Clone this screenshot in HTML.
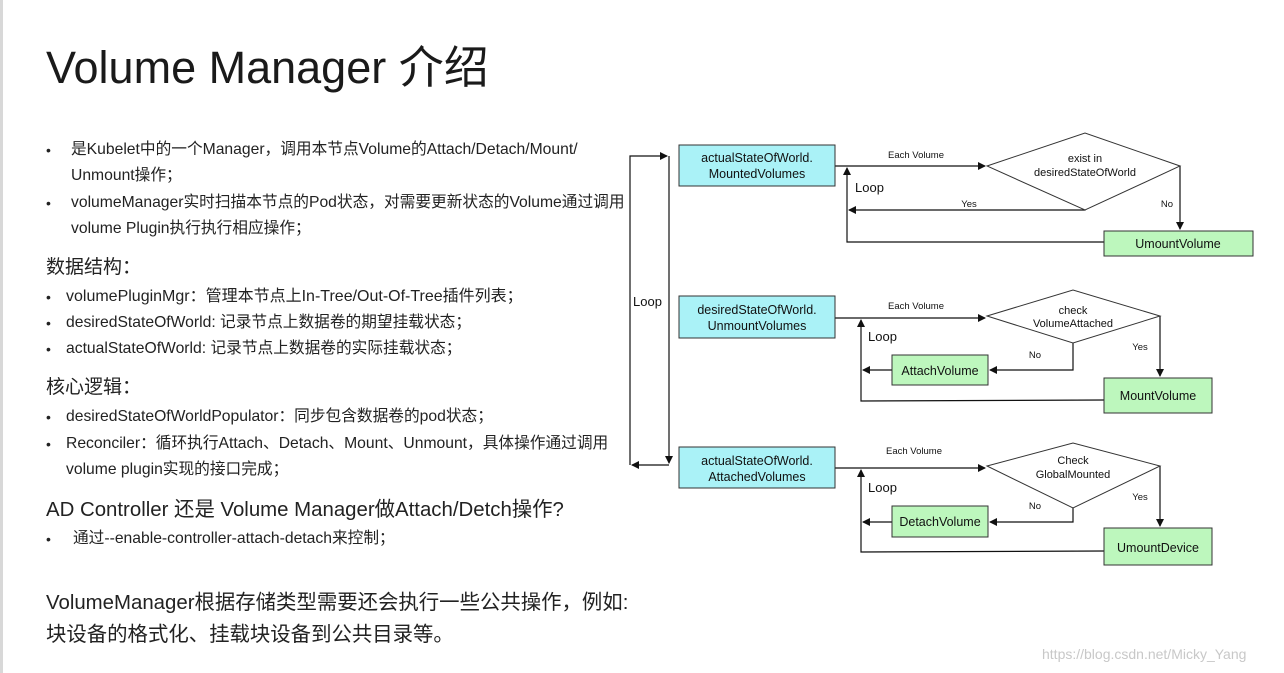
<!DOCTYPE html>
<html><head><meta charset="utf-8"><style>
body{margin:0;width:1284px;height:673px;background:#fff;position:relative;overflow:hidden;font-family:"Liberation Sans","Noto Sans CJK SC",sans-serif;color:#222}
.l{position:absolute;white-space:nowrap;line-height:1}
.s{font-size:15.7px}
.h{font-size:19px}
.b{position:absolute;font-size:14px;line-height:1}
</style></head><body>
<div style="position:absolute;left:0;top:0;width:3px;height:673px;background:#d8d8d8"></div>
<div class="l" style="left:46px;top:45px;font-size:45px;color:#1a1a1a">Volume Manager 介绍</div>

<div class="b" style="left:46px;top:143px">•</div>
<div class="l s" style="left:71px;top:142px">是Kubelet中的一个Manager，调用本节点Volume的Attach/Detach/Mount/</div>
<div class="l s" style="left:71px;top:168px">Unmount操作；</div>
<div class="b" style="left:46px;top:196px">•</div>
<div class="l s" style="left:71px;top:195px">volumeManager实时扫描本节点的Pod状态，对需要更新状态的Volume通过调用</div>
<div class="l s" style="left:71px;top:221px">volume Plugin执行执行相应操作；</div>

<div class="l h" style="left:46px;top:258px">数据结构：</div>
<div class="b" style="left:46px;top:290px">•</div>
<div class="l s" style="left:66px;top:289px;font-size:16px">volumePluginMgr：管理本节点上In-Tree/Out-Of-Tree插件列表；</div>
<div class="b" style="left:46px;top:316px">•</div>
<div class="l s" style="left:66px;top:315px">desiredStateOfWorld: 记录节点上数据卷的期望挂载状态；</div>
<div class="b" style="left:46px;top:342px">•</div>
<div class="l s" style="left:66px;top:341px">actualStateOfWorld: 记录节点上数据卷的实际挂载状态；</div>

<div class="l h" style="left:46px;top:378px">核心逻辑：</div>
<div class="b" style="left:46px;top:410px">•</div>
<div class="l s" style="left:66px;top:409px">desiredStateOfWorldPopulator：同步包含数据卷的pod状态；</div>
<div class="b" style="left:46px;top:437px">•</div>
<div class="l s" style="left:66px;top:436px">Reconciler：循环执行Attach、Detach、Mount、Unmount，具体操作通过调用</div>
<div class="l s" style="left:66px;top:462px">volume plugin实现的接口完成；</div>

<div class="l" style="left:46px;top:500px;font-size:20.4px">AD Controller 还是 Volume Manager做Attach/Detch操作?</div>
<div class="b" style="left:46px;top:532px">•</div>
<div class="l s" style="left:73px;top:531px">通过--enable-controller-attach-detach来控制；</div>

<div class="l" style="left:46px;top:593px;font-size:20.4px">VolumeManager根据存储类型需要还会执行一些公共操作，例如:</div>
<div class="l" style="left:46px;top:625px;font-size:20.4px">块设备的格式化、挂载块设备到公共目录等。</div>
<div class="l" style="left:1042px;top:647px;font-size:14px;color:#c8c8c8">https://blog.csdn.net/Micky_Yang</div>

<svg width="1284" height="673" style="position:absolute;left:0;top:0" font-family="Liberation Sans, sans-serif">
<defs><marker id="a" markerWidth="8" markerHeight="8" refX="7" refY="4" orient="auto" markerUnits="userSpaceOnUse"><path d="M0,0 L8,4 L0,8 z" fill="#111"/></marker></defs>
<g stroke="#111" stroke-width="1.2" fill="none">
<path d="M630,465 V156 H667" marker-end="url(#a)"/>
<path d="M669,156 V463" marker-end="url(#a)"/>
<path d="M669,465 H632" marker-end="url(#a)"/>
<path d="M835,166 H985" marker-end="url(#a)"/>
<path d="M1180,166 V229" marker-end="url(#a)"/>
<path d="M1085,197 V210 H849" marker-end="url(#a)"/>
<path d="M1104,242 H847 V168" marker-end="url(#a)"/>
<path d="M835,318 H985" marker-end="url(#a)"/>
<path d="M1160,316 V376" marker-end="url(#a)"/>
<path d="M1073,343 V370 H990" marker-end="url(#a)"/>
<path d="M892,370 H863" marker-end="url(#a)"/>
<path d="M1104,400 L861,401 V320" marker-end="url(#a)"/>
<path d="M835,468 H985" marker-end="url(#a)"/>
<path d="M1160,466 V526" marker-end="url(#a)"/>
<path d="M1073,508 V522 H990" marker-end="url(#a)"/>
<path d="M892,522 H863" marker-end="url(#a)"/>
<path d="M1104,551 L861,552 V470" marker-end="url(#a)"/>
</g>
<g stroke="#333" stroke-width="1">
<rect x="679" y="145" width="156" height="41" fill="#aaf2f7"/>
<rect x="679" y="296" width="156" height="42" fill="#aaf2f7"/>
<rect x="679" y="447" width="156" height="41" fill="#aaf2f7"/>
<rect x="1104" y="231" width="149" height="25" fill="#bdf7bd"/>
<rect x="892" y="355" width="96" height="30" fill="#bdf7bd"/>
<rect x="1104" y="378" width="108" height="35" fill="#bdf7bd"/>
<rect x="892" y="506" width="96" height="31" fill="#bdf7bd"/>
<rect x="1104" y="528" width="108" height="37" fill="#bdf7bd"/>
<path d="M987,166 L1085,133 L1180,166 L1085,210 Z" fill="#fff"/>
<path d="M987,316 L1073,290 L1160,316 L1073,343 Z" fill="#fff"/>
<path d="M987,466 L1073,443 L1160,466 L1073,508 Z" fill="#fff"/>
</g>
<g fill="#111" font-size="12.5" text-anchor="middle">
<text x="757" y="162">actualStateOfWorld.</text><text x="757" y="178">MountedVolumes</text>
<text x="757" y="314">desiredStateOfWorld.</text><text x="757" y="330">UnmountVolumes</text>
<text x="757" y="465">actualStateOfWorld.</text><text x="757" y="481">AttachedVolumes</text>
<text x="1178" y="248">UmountVolume</text>
<text x="940" y="375">AttachVolume</text>
<text x="1158" y="400">MountVolume</text>
<text x="940" y="526">DetachVolume</text>
<text x="1158" y="552">UmountDevice</text>
<g font-size="11"><text x="1085" y="162">exist in</text><text x="1085" y="176">desiredStateOfWorld</text>
<text x="1073" y="314">check</text><text x="1073" y="327">VolumeAttached</text>
<text x="1073" y="464">Check</text><text x="1073" y="478">GlobalMounted</text></g>
<g font-size="9.5"><text x="916" y="158">Each Volume</text><text x="916" y="309">Each Volume</text><text x="914" y="454">Each Volume</text>
<text x="969" y="207">Yes</text><text x="1167" y="207">No</text>
<text x="1035" y="358">No</text><text x="1140" y="350">Yes</text>
<text x="1035" y="509">No</text><text x="1140" y="500">Yes</text></g>
</g>
<g fill="#111" font-size="13"><text x="855" y="192">Loop</text><text x="868" y="341">Loop</text><text x="868" y="492">Loop</text><text x="633" y="306">Loop</text></g>
</svg>
</body></html>
